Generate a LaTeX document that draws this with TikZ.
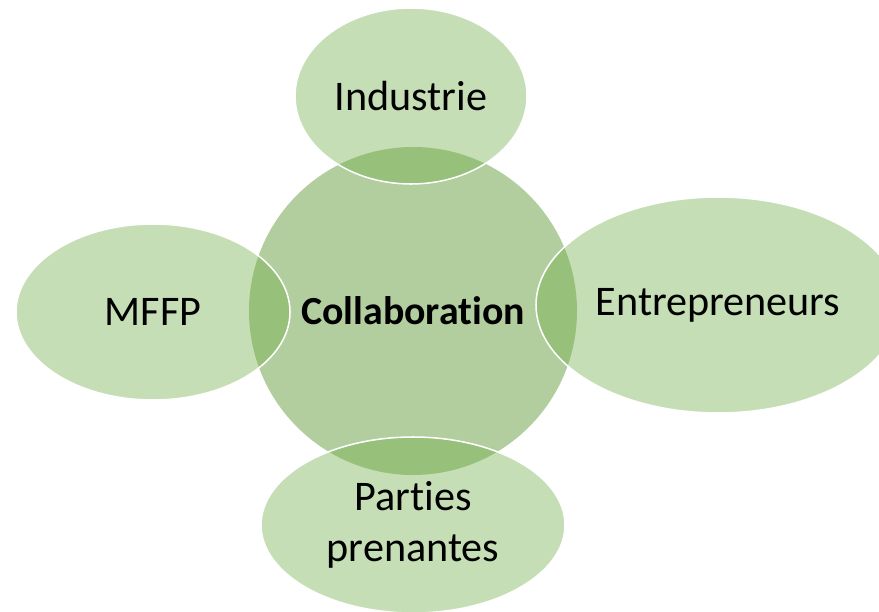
\documentclass[tikz,border=0pt]{standalone}
\usepackage{fontspec}
\setmainfont{Carlito}[Ligatures={NoCommon,NoContextual}, Contextuals=NoAlternate]
\definecolor{leafgreen}{RGB}{112,173,71}
\definecolor{sagegreen}{RGB}{178,205,158}
\usetikzlibrary{shapes.geometric}

\begin{document}
\begin{tikzpicture}[
    x=0.03cm, y=0.03cm,
    hub/.style={circle, fill=sagegreen, minimum size=328*0.03cm, inner sep=0pt,
      font=\fontsize{34}{40}\selectfont\bfseries, align=center},
    petal/.style={ellipse, fill=leafgreen, fill opacity=0.4, text opacity=1,
      draw=white, line width=1.3pt, inner sep=0pt,
      font=\fontsize{36}{44}\selectfont, align=center},
  ]
    \useasboundingbox (0, 0) rectangle (879, 611);
    \clip (0, 0) rectangle (879, 611);
    \node[hub] (collab) at (413, 300) {Collaboration};
    \node[petal, minimum width=232*0.03cm, minimum height=176*0.03cm] (industrie) at (411, 515) {Industrie};
    \node[petal, minimum width=364*0.03cm, minimum height=216*0.03cm] (entrepreneurs) at (718, 306) {Entrepreneurs};
    \node[petal, minimum width=274*0.03cm, minimum height=176*0.03cm] (mffp) at (153, 299) {MFFP};
    \node[petal, minimum width=304*0.03cm, minimum height=176*0.03cm] (parties) at (413, 86) {Parties\\prenantes};
  \end{tikzpicture}
\end{document}
